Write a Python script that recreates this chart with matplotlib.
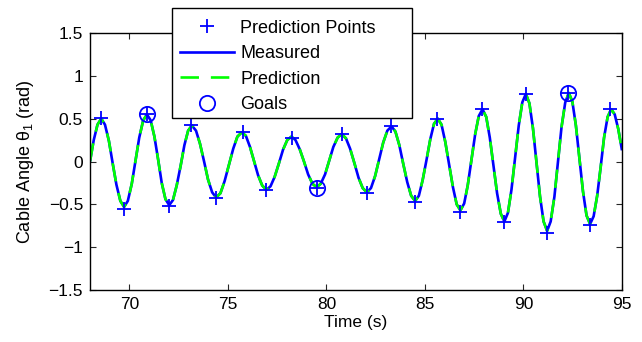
import matplotlib
matplotlib.use("Agg")
import matplotlib.pyplot as plt
from matplotlib.lines import Line2D
from matplotlib.patches import Rectangle

plt.rcParams['font.family'] = ['Liberation Sans', 'DejaVu Sans']
plt.rcParams['mathtext.fontset'] = 'custom'
plt.rcParams['mathtext.rm'] = 'Liberation Sans'
plt.rcParams['mathtext.it'] = 'Liberation Sans:italic'

# Measured cable angle (s, rad)
time_s = [68.00, 68.19, 68.38, 68.57,
          68.76, 68.96, 69.15, 69.34, 69.54, 69.73,
          69.92, 70.12, 70.31, 70.50, 70.70, 70.89,
          71.08, 71.27, 71.46, 71.64, 71.83, 72.02,
          72.21, 72.40, 72.60, 72.79, 72.98, 73.17,
          73.38, 73.58, 73.79, 73.99, 74.20, 74.40,
          74.62, 74.83, 75.05, 75.27, 75.48, 75.70,
          75.91, 76.12, 76.33, 76.53, 76.74, 76.95,
          77.16, 77.37, 77.59, 77.80, 78.01, 78.22,
          78.43, 78.65, 78.86, 79.07, 79.29, 79.50,
          79.71, 79.93, 80.14, 80.35, 80.57, 80.78,
          80.99, 81.20, 81.42, 81.63, 81.84, 82.05,
          82.26, 82.47, 82.68, 82.88, 83.09, 83.30,
          83.50, 83.70, 83.90, 84.10, 84.30, 84.50,
          84.69, 84.88, 85.08, 85.27, 85.46, 85.65,
          85.84, 86.03, 86.23, 86.42, 86.61, 86.80,
          86.99, 87.17, 87.36, 87.55, 87.73, 87.92,
          88.11, 88.29, 88.48, 88.66, 88.85, 89.03,
          89.21, 89.39, 89.58, 89.76, 89.94, 90.12,
          90.30, 90.48, 90.66, 90.84, 91.02, 91.20,
          91.38, 91.57, 91.75, 91.93, 92.12, 92.30,
          92.48, 92.66, 92.84, 93.02, 93.20, 93.38,
          93.56, 93.74, 93.92, 94.09, 94.27, 94.45,
          94.63, 94.81, 95.00]
measured = [0.00, 0.25, 0.43, 0.50,
            0.43, 0.24, -0.02, -0.27, -0.46, -0.53,
            -0.46, -0.26, 0.01, 0.28, 0.48, 0.55,
            0.48, 0.29, 0.02, -0.25, -0.44, -0.51,
            -0.45, -0.28, -0.05, 0.19, 0.36, 0.42,
            0.36, 0.21, 0.00, -0.21, -0.36, -0.42,
            -0.37, -0.23, -0.04, 0.15, 0.29, 0.34,
            0.30, 0.17, 0.00, -0.16, -0.28, -0.33,
            -0.29, -0.18, -0.02, 0.14, 0.25, 0.29,
            0.25, 0.14, 0.00, -0.15, -0.26, -0.30,
            -0.26, -0.15, 0.01, 0.17, 0.28, 0.32,
            0.27, 0.15, -0.02, -0.19, -0.31, -0.36,
            -0.31, -0.17, 0.03, 0.22, 0.36, 0.41,
            0.35, 0.19, -0.03, -0.24, -0.40, -0.46,
            -0.40, -0.22, 0.02, 0.26, 0.44, 0.50,
            0.43, 0.23, -0.04, -0.30, -0.50, -0.57,
            -0.49, -0.28, 0.02, 0.32, 0.53, 0.61,
            0.52, 0.28, -0.05, -0.37, -0.61, -0.70,
            -0.60, -0.33, 0.05, 0.42, 0.69, 0.79,
            0.68, 0.39, -0.01, -0.41, -0.70, -0.81,
            -0.70, -0.41, 0.00, 0.40, 0.69, 0.80,
            0.70, 0.42, 0.04, -0.35, -0.63, -0.73,
            -0.64, -0.40, -0.06, 0.28, 0.52, 0.61,
            0.55, 0.38, 0.13]
# predicted trajectory follows the measured one almost exactly
prediction = measured

# Prediction points at each peak / trough
pp_time = [68.57, 69.73, 70.89, 72.00, 73.14, 74.41, 75.74, 76.93, 78.24, 79.50, 80.80, 82.04,
           83.30, 84.47, 85.63, 86.78, 87.88, 89.03, 90.12, 91.18, 92.28, 93.38, 94.40]
pp_value = [0.51, -0.55, 0.55, -0.52, 0.43, -0.43, 0.34, -0.33, 0.27, -0.31, 0.32, -0.37,
            0.41, -0.47, 0.50, -0.59, 0.61, -0.71, 0.79, -0.83, 0.80, -0.74, 0.61]

# Goals
goal_time = [70.89, 79.50, 92.28]
goal_value = [0.55, -0.31, 0.80]

W, H = 642, 342
fig = plt.figure(figsize=(W / 100, H / 100), dpi=100)
ax = fig.add_axes([90 / W, 1 - 290 / H, 532 / W, 257 / H])

ax.plot(time_s, measured, color=(0, 0, 1), lw=1.9, solid_capstyle='butt')
ax.plot(time_s, prediction, color=(0, 1, 0), lw=1.9, dashes=(7, 4.5))
ax.plot(pp_time, pp_value, linestyle='none', marker='+', ms=10, mew=1.3, color=(0, 0, 1))
ax.plot(goal_time, goal_value, linestyle='none', marker='o', ms=11, mew=1.3,
        mfc='none', mec=(0, 0, 1))

ax.set_xlim(68, 95)
ax.set_ylim(-1.5, 1.5)
ax.set_xticks([70, 75, 80, 85, 90, 95])
ax.set_yticks([-1.5, -1, -0.5, 0, 0.5, 1, 1.5])
ax.set_yticklabels(['\u22121.5', '\u22121', '\u22120.5', '0', '0.5', '1', '1.5'])
ax.tick_params(direction='in', length=4, width=0.8, top=True, right=True,
               labelsize=12.5, pad=5, colors='#262626', labelcolor='black')
for s in ax.spines.values():
    s.set_linewidth(1.0)

ax.set_xlabel('Time (s)', fontsize=12.5, labelpad=2)
ax.set_ylabel('Cable Angle θ$_1$ (rad)', fontsize=13, labelpad=9)

# legend frame sits above the axes box, like the MATLAB one
fig.patches.append(Rectangle((172 / W, 1 - 118 / H), 240 / W, 110 / H,
                             transform=fig.transFigure, facecolor='white',
                             edgecolor='black', lw=1.0, zorder=1))
handles = [
    Line2D([], [], linestyle='none', marker='+', ms=10, mew=1.3, color=(0, 0, 1)),
    Line2D([], [], color=(0, 0, 1), lw=1.9),
    Line2D([], [], color=(0, 1, 0), lw=1.9, dashes=(7, 4.5)),
    Line2D([], [], linestyle='none', marker='o', ms=11, mew=1.3, mfc='none', mec=(0, 0, 1)),
]
labels = ['Prediction Points', 'Measured', 'Prediction', 'Goals']
fig.legend(handles, labels, loc='upper left', bbox_to_anchor=(176 / W, 1 - 16 / H),
           frameon=False, fontsize=13, handlelength=3.0, handletextpad=0.35,
           labelspacing=0.47, borderpad=0.2, borderaxespad=0)

fig.savefig('out.png', dpi=100)
